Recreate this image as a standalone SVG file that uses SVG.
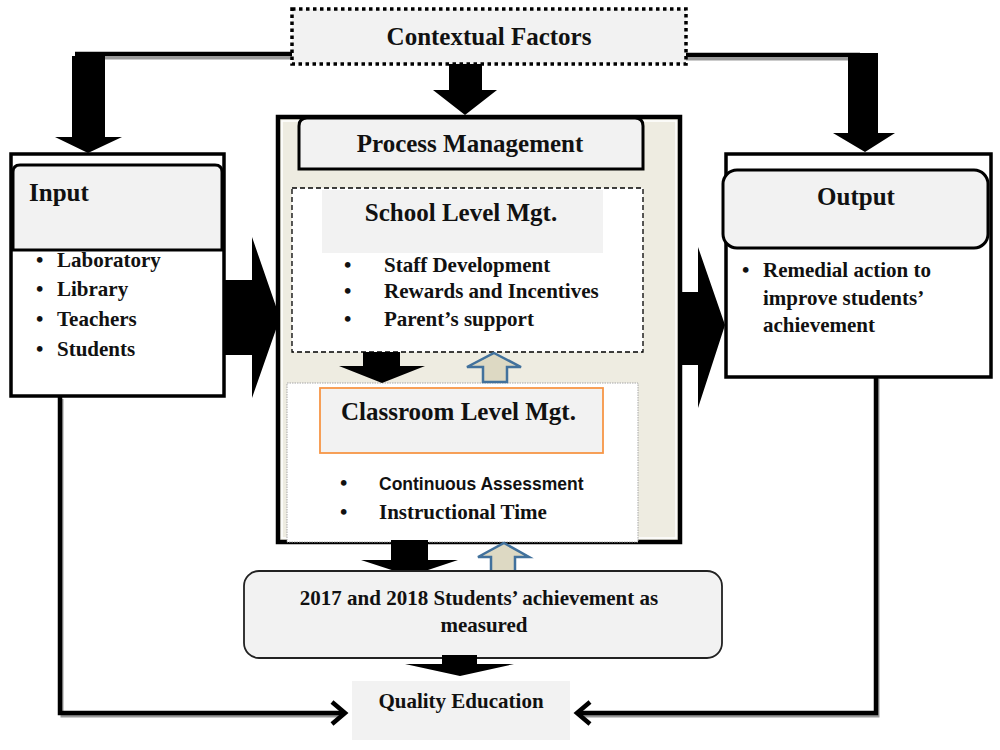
<svg xmlns="http://www.w3.org/2000/svg" width="1000" height="750" viewBox="0 0 1000 750">
<style>
.t{font-family:"Liberation Serif","Times New Roman",serif;font-weight:bold;fill:#111}
.h{font-size:25px}
.b{font-size:21px}
.s{font-family:"Liberation Sans",Arial,sans-serif;font-weight:bold;fill:#111;font-size:17.5px}
.blk{fill:#000}
.up{fill:#ddd9c3;stroke:#41719c;stroke-width:2.5}
.ln{fill:none;stroke:#000;stroke-width:4.5}
.sh{fill:none;stroke:#9a9a9a;stroke-width:3}
</style>
<rect width="1000" height="750" fill="#fff"/>

<g id="connectors">
  <path class="sh" d="M75,58 H292"/>
  <path class="ln" d="M75,54 H292"/>
  <path class="sh" d="M686,59 H850"/>
  <path class="ln" d="M686,55 H860"/>
  <polygon class="blk" points="72,56 105,56 105,137 122,137 88,153 55,137 72,137"/>
  <polygon class="blk" points="449,64 482,64 482,90 497,90 465,115 433,90 449,90"/>
  <polygon class="blk" points="848,53 878,53 878,133 895,133 865,152 833,133 848,133"/>
  <polygon class="blk" points="225,280 252,280 252,237 280,318 252,398 252,355 225,355"/>
  <polygon class="blk" points="675,292 698,292 698,247 725,325 698,408 698,365 675,365"/>
  <path class="sh" d="M62,399 V716 H342"/>
  <path class="ln" d="M60,397 V713 H344"/>
  <path class="ln" d="M332,702 L345,713 L332,724"/>
  <path class="sh" d="M878,379 V716 H580"/>
  <path class="ln" d="M876,377 V713 H578"/>
  <path class="ln" d="M590,702 L577,713 L590,724"/>
</g>

<g id="contextual">
  <rect x="292" y="9" width="394" height="55" fill="#f2f2f2" stroke="#000" stroke-width="3.5" stroke-dasharray="3.5 3.5"/>
  <text class="t h" x="489" y="45" text-anchor="middle">Contextual Factors</text>
</g>

<g id="input">
  <rect x="11" y="154" width="213" height="242" fill="#fff" stroke="#000" stroke-width="3.5"/>
  <path d="M13,250 V172 Q13,165 20,165 H215 Q222,165 222,172 V250 Z" fill="#f2f2f2" stroke="#000" stroke-width="3"/>
  <text class="t h" x="29" y="201">Input</text>
  <text class="t b" x="36" y="267">•</text><text class="t b" x="57" y="267">Laboratory</text>
  <text class="t b" x="36" y="296">•</text><text class="t b" x="57" y="296">Library</text>
  <text class="t b" x="36" y="326">•</text><text class="t b" x="57" y="326">Teachers</text>
  <text class="t b" x="36" y="356">•</text><text class="t b" x="57" y="356">Students</text>
</g>

<g id="process">
  <rect x="278" y="117" width="402" height="425" fill="#eeece1" stroke="#000" stroke-width="4.5"/>
  <rect x="282" y="121" width="394" height="417" fill="none" stroke="#fff" stroke-width="1.5"/>
  <path d="M299,169 V126 Q299,118 307,118 H635 Q643,118 643,126 V169 Z" fill="#f2f2f2" stroke="#000" stroke-width="3"/>
  <text class="t h" x="470" y="152" text-anchor="middle">Process Management</text>
</g>

<g id="school">
  <rect x="292" y="188" width="351" height="164" fill="#fff" stroke="#000" stroke-width="1.3" stroke-dasharray="5 3"/>
  <rect x="322" y="190" width="281" height="63" fill="#f2f2f2"/>
  <text class="t h" x="461" y="221" text-anchor="middle">School Level Mgt.</text>
  <text class="t b" x="344" y="272">•</text><text class="t b" x="384" y="272">Staff Development</text>
  <text class="t b" x="344" y="298">•</text><text class="t b" x="384" y="298">Rewards  and Incentives</text>
  <text class="t b" x="344" y="326">•</text><text class="t b" x="384" y="326">Parent’s support</text>
</g>

<g id="classroom">
  <rect x="287" y="383" width="351" height="159" fill="#fff" stroke="#a6a6a6" stroke-width="1" stroke-dasharray="1.5 1"/>
  <rect x="320" y="388" width="283" height="65" fill="#f2f2f2" stroke="#f79646" stroke-width="1.8"/>
  <text class="t h" x="341" y="420">Classroom  Level Mgt.</text>
  <text class="t b" x="340" y="490">•</text><text class="s" x="379" y="490">Continuous Assessment</text>
  <text class="t b" x="340" y="519">•</text><text class="t b" x="379" y="519">Instructional Time</text>
</g>

<g id="inner-arrows">
  <polygon class="blk" points="363,352 400,352 400,366 425,366 382,383 339,366 363,366"/>
  <polygon class="up" points="494,353 521,367 507,367 507,382 483,382 483,367 467,367"/>
  <polygon class="blk" points="391,540 428,540 428,560 458,560 410,576 361,560 391,560"/>
  <polygon class="up" points="504,543 529,557 515,557 515,572 491,572 491,557 478,557"/>
</g>

<g id="output">
  <rect x="726" y="154" width="265" height="223" fill="#fff" stroke="#000" stroke-width="3.5"/>
  <rect x="723" y="170" width="265" height="78" rx="14" fill="#f2f2f2" stroke="#000" stroke-width="3"/>
  <text class="t h" x="856" y="205" text-anchor="middle">Output</text>
  <text class="t b" x="742" y="277">•</text><text class="t b" x="763" y="277">Remedial action to</text>
  <text class="t b" x="763" y="305">improve students’</text>
  <text class="t b" x="763" y="332">achievement</text>
</g>

<g id="achievement">
  <rect x="244" y="571" width="478" height="87" rx="15" fill="#f2f2f2" stroke="#222" stroke-width="1.8"/>
  <text class="t" font-size="21" x="479" y="605" text-anchor="middle">2017 and 2018 Students’  achievement as</text>
  <text class="t" font-size="21" x="484" y="632" text-anchor="middle">measured</text>
  <polygon class="blk" points="442,655 477,655 477,664 514,664 460,676 405,664 442,664"/>
</g>

<g id="quality">
  <rect x="352" y="681" width="218" height="59" fill="#f2f2f2"/>
  <text class="t" font-size="21" x="461" y="708" text-anchor="middle">Quality Education</text>
</g>
</svg>
